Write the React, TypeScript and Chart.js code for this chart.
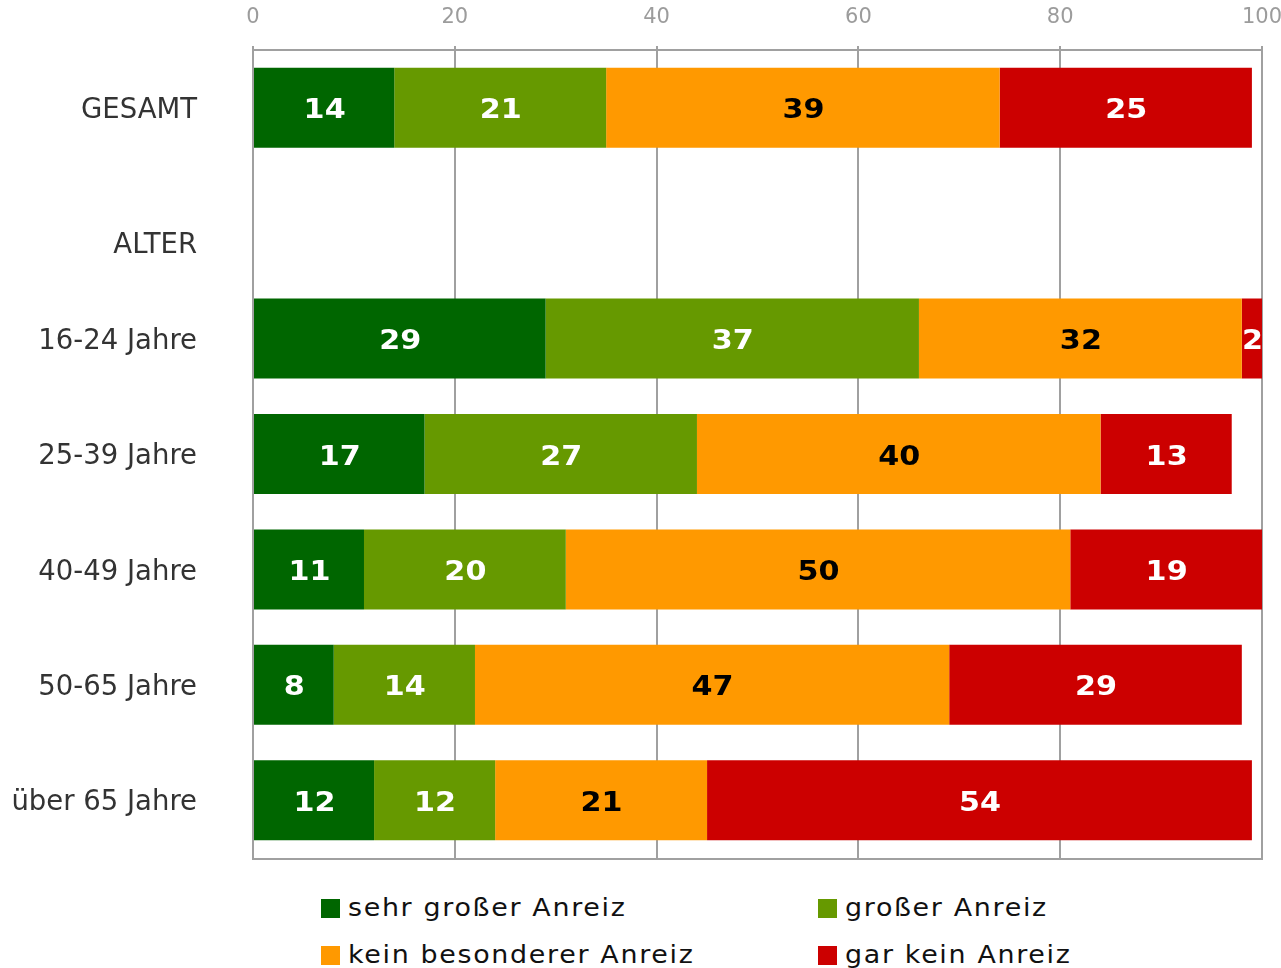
import React, { useEffect, useRef } from "react";
import { Chart, registerables } from "chart.js";

Chart.register(...registerables);

const categories: (string | string[])[] = [
  "GESAMT",
  ["", "ALTER"],
  "16-24 Jahre",
  "25-39 Jahre",
  "40-49 Jahre",
  "50-65 Jahre",
  "über 65 Jahre",
];

const seriesNames = [
  "sehr großer Anreiz",
  "großer Anreiz",
  "kein besonderer Anreiz",
  "gar kein Anreiz",
];

const sehrGross = [14, null, 29, 17, 11, 8, 12];
const gross = [21, null, 37, 27, 20, 14, 12];
const keinBesonderer = [39, null, 32, 40, 50, 47, 21];
const garKein = [25, null, 2, 13, 19, 29, 54];

const xTicks = [0, 20, 40, 60, 80, 100];

const colors = ["#006600", "#669900", "#ff9900", "#cc0000"];
const labelColors = ["#ffffff", "#ffffff", "#000000", "#ffffff"];
const gridColor = "#a0a0a0";
const FONT = "'DejaVu Sans', Verdana, sans-serif";

const valueLabelPlugin = {
  id: "valueLabels",
  afterDatasetsDraw(chart: any) {
    const ctx = chart.ctx;
    chart.data.datasets.forEach((ds: any, di: number) => {
      const meta = chart.getDatasetMeta(di);
      meta.data.forEach((el: any, i: number) => {
        const v = ds.data[i];
        if (v === null || v === undefined) return;
        const cx = (el.x + el.base) / 2;
        const cy = el.y + 10.5;
        ctx.save();
        ctx.font = `bold 26.5px ${FONT}`;
        ctx.textAlign = "center";
        ctx.textBaseline = "alphabetic";
        ctx.fillStyle = labelColors[di];
        ctx.translate(cx + 0.5, cy);
        ctx.scale(1.14, 1);
        ctx.fillText(String(v), 0, 0);
        ctx.restore();
      });
    });
  },
};

const bottomLinePlugin = {
  id: "bottomLine",
  afterDraw(chart: any) {
    const { ctx, chartArea } = chart;
    ctx.save();
    ctx.strokeStyle = gridColor;
    ctx.lineWidth = 2;
    ctx.beginPath();
    ctx.moveTo(chartArea.left - 1, chartArea.bottom + 1);
    ctx.lineTo(chartArea.right + 1, chartArea.bottom + 1);
    ctx.stroke();
    ctx.restore();
  },
};

export default function App() {
  const ref = useRef<HTMLCanvasElement | null>(null);

  useEffect(() => {
    if (!ref.current) return;
    const seriesData = [sehrGross, gross, keinBesonderer, garKein];
    const chart = new Chart(ref.current, {
      type: "bar",
      data: {
        labels: categories as any,
        datasets: seriesData.map((d, i) => ({
          label: seriesNames[i],
          data: d as any,
          backgroundColor: colors[i],
          borderWidth: 0,
          categoryPercentage: 1,
          barPercentage: 0.693,
        })),
      },
      options: {
        indexAxis: "y",
        responsive: false,
        animation: false,
        devicePixelRatio: 1,
        layout: { padding: { left: 0, right: 19, top: 0, bottom: 10 } },
        plugins: {
          legend: { display: false },
          tooltip: { enabled: false },
        },
        scales: {
          x: {
            position: "top",
            stacked: true,
            min: 0,
            max: 100,
            afterBuildTicks: (s: any) => {
              s.ticks = xTicks.map((v) => ({ value: v }));
            },
            ticks: {
              stepSize: 20,
              padding: 16,
              color: "#9c9c9c",
              font: { family: FONT, size: 21 },
            },
            grid: {
              color: gridColor,
              lineWidth: 2,
              tickLength: 4,
              drawTicks: true,
            },
            border: { display: true, color: gridColor, width: 2 },
            afterFit: (s: any) => {
              s.height = 50;
              s.paddingLeft = 0;
              s.paddingRight = 0;
            },
          },
          y: {
            stacked: true,
            ticks: {
              padding: 56,
              labelOffset: 3,
              color: "#333333",
              font: { family: FONT, size: 27.5, lineHeight: 1.45 },
            },
            grid: { display: false, drawTicks: false },
            border: { display: false },
            afterFit: (s: any) => {
              s.width = 253;
              s.paddingTop = 0;
              s.paddingBottom = 0;
            },
          },
        },
      },
      plugins: [valueLabelPlugin, bottomLinePlugin],
    });
    return () => chart.destroy();
  }, []);

  const legendItems = [
    { name: seriesNames[0], color: colors[0], left: 321, top: 893 },
    { name: seriesNames[1], color: colors[1], left: 818, top: 893 },
    { name: seriesNames[2], color: colors[2], left: 321, top: 940 },
    { name: seriesNames[3], color: colors[3], left: 818, top: 940 },
  ];

  return (
    <div
      style={{
        position: "absolute",
        left: 0,
        top: 0,
        width: 1281,
        height: 968,
        background: "#ffffff",
        overflow: "hidden",
      }}
    >
      <canvas ref={ref} width={1281} height={868} style={{ display: "block" }} />
      {legendItems.map((it) => (
        <div
          key={it.name}
          style={{
            position: "absolute",
            left: it.left,
            top: it.top,
            height: 30,
            display: "flex",
            alignItems: "center",
            whiteSpace: "nowrap",
          }}
        >
          <span
            style={{
              display: "inline-block",
              width: 19,
              height: 19,
              background: it.color,
              marginRight: 8,
            }}
          />
          <span
            style={{
              display: "inline-block",
              fontFamily: FONT,
              fontSize: 24,
              letterSpacing: "1.5px",
              color: "#111111",
              lineHeight: "30px",
              transform: "scaleX(1.12)",
              transformOrigin: "left center",
            }}
          >
            {it.name}
          </span>
        </div>
      ))}
    </div>
  );
}
